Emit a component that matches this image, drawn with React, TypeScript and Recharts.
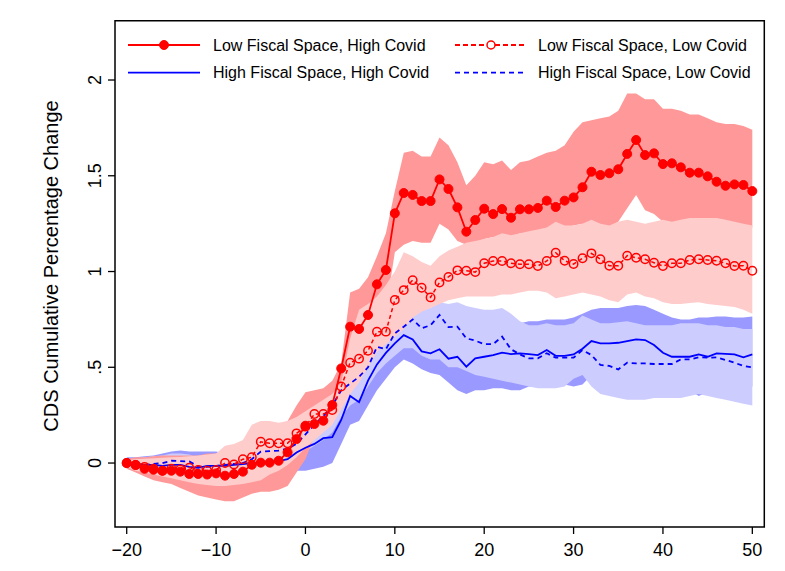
import React from 'react';
import { ComposedChart, Area, Line, XAxis, YAxis, ReferenceArea } from 'recharts';

// ---------- data ----------
const periods = [
  -20, -19, -18, -17, -16, -15, -14, -13, -12, -11, -10, -9, -8, -7, -6, -5, -4, -3, -2, -1,
  0, 1, 2, 3, 4, 5, 6, 7, 8, 9, 10, 11, 12, 13, 14, 15, 16, 17, 18, 19, 20,
  21, 22, 23, 24, 25, 26, 27, 28, 29, 30, 31, 32, 33, 34, 35, 36, 37, 38, 39, 40,
  41, 42, 43, 44, 45, 46, 47, 48, 49, 50,
];

// Low Fiscal Space, High Covid
const lowFsHighCovid = [
  0.0, -0.01, -0.03, -0.035, -0.04, -0.04, -0.045, -0.057, -0.057, -0.06, -0.054, -0.066, -0.057, -0.045, -0.009, 0.002, 0.002, 0.012, 0.056, 0.125,
  0.195, 0.204, 0.221, 0.303, 0.494, 0.712, 0.7, 0.773, 0.933, 1.008, 1.304, 1.41, 1.4, 1.368, 1.368, 1.481, 1.431, 1.335, 1.208, 1.269, 1.328,
  1.3, 1.326, 1.281, 1.325, 1.325, 1.332, 1.37, 1.337, 1.37, 1.387, 1.44, 1.521, 1.504, 1.513, 1.534, 1.614, 1.687, 1.608, 1.617, 1.561,
  1.565, 1.544, 1.516, 1.516, 1.497, 1.469, 1.448, 1.455, 1.452, 1.42,
];
const lowFsHighCovidLo = [
  -0.03, -0.05, -0.07, -0.09, -0.1, -0.11, -0.13, -0.15, -0.17, -0.18, -0.19, -0.2, -0.2, -0.18, -0.16, -0.15, -0.15, -0.14, -0.12, -0.05,
  0.02, 0.14, 0.18, 0.22, 0.3, 0.38, 0.44, 0.52, 0.6, 0.8, 1.1, 1.14, 1.16, 1.15, 1.15, 1.25, 1.22, 1.16, 1.14, 1.15, 1.17,
  1.18, 1.18, 1.17, 1.2, 1.2, 1.21, 1.22, 1.24, 1.23, 1.24, 1.25, 1.24, 1.23, 1.23, 1.26, 1.33, 1.4, 1.32, 1.3, 1.26,
  1.25, 1.25, 1.26, 1.27, 1.27, 1.26, 1.25, 1.25, 1.24, 1.23,
];
const lowFsHighCovidHi = [
  0.02, 0.03, 0.03, 0.035, 0.04, 0.04, 0.04, 0.04, 0.04, 0.05, 0.05, 0.06, 0.07, 0.08, 0.12, 0.15, 0.17, 0.2, 0.22, 0.3,
  0.37, 0.38, 0.39, 0.43, 0.52, 0.89, 0.91, 0.97, 1.08, 1.2, 1.42, 1.62, 1.63, 1.6, 1.6, 1.7, 1.66, 1.57, 1.45, 1.5, 1.57,
  1.56, 1.58, 1.53, 1.57, 1.58, 1.6, 1.62, 1.63, 1.66, 1.73, 1.78, 1.79, 1.8, 1.81, 1.84, 1.93, 1.93, 1.9, 1.9, 1.85,
  1.85, 1.84, 1.82, 1.82, 1.8, 1.78, 1.77, 1.77, 1.76, 1.74,
];

// Low Fiscal Space, Low Covid
const lowFsLowCovid = [
  0.0, -0.01, -0.02, -0.03, -0.04, -0.03, -0.033, -0.024, -0.036, -0.04, -0.036, 0.0, -0.007, 0.02, 0.03, 0.111, 0.103, 0.103, 0.103, 0.155,
  0.19, 0.256, 0.256, 0.277, 0.4, 0.524, 0.545, 0.586, 0.686, 0.686, 0.851, 0.903, 0.955, 0.915, 0.865, 0.943, 0.972, 1.006, 1.004, 0.997, 1.043,
  1.055, 1.055, 1.043, 1.038, 1.038, 1.029, 1.055, 1.098, 1.056, 1.039, 1.069, 1.095, 1.064, 1.03, 1.03, 1.083, 1.072, 1.064, 1.046, 1.029,
  1.043, 1.043, 1.06, 1.064, 1.06, 1.056, 1.043, 1.029, 1.03, 1.004,
];
const lowFsLowCovidLo = [
  -0.02, -0.04, -0.05, -0.06, -0.07, -0.08, -0.09, -0.1, -0.11, -0.115, -0.12, -0.12, -0.115, -0.11, -0.1, -0.09, -0.06, -0.04, -0.01, 0.03,
  0.08, 0.12, 0.16, 0.2, 0.28, 0.36, 0.42, 0.5, 0.58, 0.62, 0.66, 0.7, 0.76, 0.79, 0.81, 0.83, 0.85, 0.86, 0.87, 0.87, 0.87,
  0.87, 0.88, 0.88, 0.89, 0.9, 0.9, 0.89, 0.86, 0.87, 0.88, 0.89, 0.88, 0.87, 0.85, 0.84, 0.88, 0.89, 0.87, 0.86, 0.84,
  0.83, 0.83, 0.835, 0.84, 0.83, 0.825, 0.82, 0.815, 0.8, 0.78,
];
const lowFsLowCovidHi = [
  0.015, 0.02, 0.022, 0.025, 0.028, 0.03, 0.032, 0.035, 0.04, 0.045, 0.05, 0.09, 0.1, 0.12, 0.2, 0.22, 0.22, 0.21, 0.22, 0.24,
  0.27, 0.3, 0.33, 0.36, 0.42, 0.65, 0.8, 0.83, 0.87, 0.93, 1.0, 1.1, 1.08, 1.05, 1.03, 1.08, 1.11, 1.13, 1.15, 1.16, 1.17,
  1.18, 1.2, 1.19, 1.2, 1.21, 1.22, 1.23, 1.26, 1.24, 1.24, 1.25, 1.27, 1.25, 1.24, 1.26, 1.27, 1.26, 1.25, 1.26, 1.27,
  1.26, 1.27, 1.28, 1.28, 1.28, 1.28, 1.27, 1.26, 1.25, 1.24,
];

// High Fiscal Space, High Covid
const highFsHighCovid = [
  0.0, -0.005, -0.01, -0.01, -0.015, -0.01, -0.01, -0.02, -0.025, -0.015, -0.015, -0.015, -0.01, -0.005, 0.0, 0.005, 0.005, 0.01, 0.02, 0.055,
  0.08, 0.1, 0.13, 0.135, 0.225, 0.35, 0.318, 0.43, 0.515, 0.575, 0.625, 0.668, 0.645, 0.583, 0.573, 0.594, 0.545, 0.555, 0.503, 0.547, 0.555,
  0.564, 0.576, 0.569, 0.573, 0.569, 0.564, 0.59, 0.56, 0.56, 0.567, 0.597, 0.637, 0.625, 0.625, 0.628, 0.637, 0.646, 0.642, 0.616, 0.576,
  0.555, 0.555, 0.555, 0.567, 0.555, 0.573, 0.57, 0.567, 0.552, 0.567,
];
const highFsHighCovidLo = [
  -0.03, -0.04, -0.05, -0.06, -0.07, -0.07, -0.08, -0.09, -0.09, -0.09, -0.08, -0.08, -0.08, -0.07, -0.06, -0.06, -0.05, -0.05, -0.04, -0.04,
  -0.04, -0.03, -0.02, 0.0, 0.1, 0.2, 0.22, 0.3, 0.38, 0.44, 0.5, 0.54, 0.52, 0.49, 0.47, 0.46, 0.42, 0.38, 0.36, 0.38, 0.38,
  0.39, 0.39, 0.38, 0.38, 0.4, 0.4, 0.41, 0.41, 0.41, 0.4, 0.41, 0.46, 0.46, 0.46, 0.47, 0.47, 0.48, 0.48, 0.46, 0.43,
  0.41, 0.4, 0.38, 0.35, 0.37, 0.4, 0.4, 0.4, 0.39, 0.4,
];
const highFsHighCovidHi = [
  0.03, 0.03, 0.035, 0.04, 0.05, 0.06, 0.065, 0.06, 0.06, 0.06, 0.06, 0.05, 0.05, 0.05, 0.05, 0.05, 0.06, 0.07, 0.09, 0.12,
  0.16, 0.2, 0.24, 0.27, 0.35, 0.47, 0.45, 0.55, 0.62, 0.7, 0.74, 0.79, 0.78, 0.72, 0.7, 0.71, 0.66, 0.67, 0.63, 0.67, 0.68,
  0.69, 0.7, 0.71, 0.73, 0.74, 0.74, 0.75, 0.75, 0.75, 0.76, 0.78, 0.8, 0.81, 0.81, 0.81, 0.82, 0.825, 0.82, 0.8, 0.78,
  0.76, 0.75, 0.75, 0.76, 0.76, 0.765, 0.765, 0.76, 0.76, 0.765,
];

// High Fiscal Space, Low Covid
const highFsLowCovid = [
  0.0, -0.005, -0.01, -0.005, 0.0, 0.012, 0.01, 0.008, -0.018, -0.02, -0.015, -0.01, -0.005, 0.0, 0.02, 0.06, 0.062, 0.065, 0.075, 0.1,
  0.15, 0.2, 0.245, 0.3, 0.38, 0.415, 0.45, 0.5, 0.607, 0.594, 0.677, 0.712, 0.75, 0.703, 0.72, 0.773, 0.71, 0.712, 0.651, 0.639, 0.621,
  0.621, 0.66, 0.594, 0.567, 0.547, 0.547, 0.573, 0.55, 0.55, 0.55, 0.59, 0.564, 0.512, 0.507, 0.489, 0.524, 0.52, 0.52, 0.517, 0.517,
  0.517, 0.541, 0.541, 0.552, 0.55, 0.552, 0.538, 0.524, 0.507, 0.5,
];
const highFsLowCovidLo = [
  -0.02, -0.03, -0.04, -0.04, -0.04, -0.03, -0.03, -0.03, -0.06, -0.06, -0.06, -0.05, -0.05, -0.045, -0.03, -0.01, -0.005, 0.0, 0.01, 0.03,
  0.06, 0.09, 0.12, 0.16, 0.24, 0.3, 0.33, 0.4, 0.47, 0.52, 0.56, 0.6, 0.6, 0.56, 0.54, 0.54, 0.5, 0.5, 0.48, 0.46, 0.45,
  0.44, 0.43, 0.42, 0.41, 0.4, 0.39, 0.39, 0.39, 0.4, 0.44, 0.46, 0.4, 0.36, 0.35, 0.34, 0.33, 0.33, 0.33, 0.34, 0.34,
  0.34, 0.34, 0.35, 0.36, 0.35, 0.34, 0.33, 0.32, 0.31, 0.3,
];
const highFsLowCovidHi = [
  0.02, 0.025, 0.03, 0.035, 0.04, 0.05, 0.05, 0.045, 0.03, 0.03, 0.03, 0.035, 0.04, 0.045, 0.08, 0.12, 0.13, 0.14, 0.16, 0.19,
  0.24, 0.29, 0.33, 0.38, 0.46, 0.5, 0.55, 0.6, 0.7, 0.72, 0.77, 0.8, 0.83, 0.8, 0.81, 0.84, 0.83, 0.84, 0.82, 0.81, 0.8,
  0.8, 0.81, 0.78, 0.74, 0.72, 0.72, 0.73, 0.72, 0.72, 0.73, 0.77, 0.75, 0.73, 0.73, 0.735, 0.74, 0.73, 0.72, 0.72, 0.72,
  0.72, 0.73, 0.73, 0.73, 0.72, 0.72, 0.71, 0.71, 0.7, 0.7,
];

const xTicks = [-20, -10, 0, 10, 20, 30, 40, 50];
const yTicks = [0, 0.5, 1, 1.5, 2];
const yTickLabels = ['0', '.5', '1', '1.5', '2'];
const yTitle = 'CDS Cumulative Percentage Change';
const legendLabels = [
  'Low Fiscal Space, High Covid',
  'Low Fiscal Space, Low Covid',
  'High Fiscal Space, High Covid',
  'High Fiscal Space, Low Covid',
];

// ---------- styling / layout ----------
const FONT = '"Liberation Sans", Arial, Helvetica, sans-serif';
const RED = '#FF0000';
const BLUE = '#0000FF';
const BAND_A = '#FF9999';
const BAND_B = '#FFCCCC';
const BAND_C = '#9999FF';
const BAND_D = '#CCCCFF';

const W = 777;
const H = 563;
const X_DOMAIN: [number, number] = [-21.31, 51.34];
const Y_DOMAIN: [number, number] = [-0.334, 2.3097];
const PLOT_TOP = 12.7;
const PLOT_LEFT = 107;
const PLOT_RIGHT_MARGIN = 20.7;
const X_AXIS_H = 44;
const PLOT_BOTTOM = H - X_AXIS_H;

const data = periods.map((t, i) => ({
  t,
  a: lowFsHighCovid[i],
  b: lowFsLowCovid[i],
  c: highFsHighCovid[i],
  d: highFsLowCovid[i],
  aBand: [lowFsHighCovidLo[i], lowFsHighCovidHi[i]],
  bBand: [lowFsLowCovidLo[i], lowFsLowCovidHi[i]],
  cBand: [highFsHighCovidLo[i], highFsHighCovidHi[i]],
  dBand: [highFsLowCovidLo[i], highFsLowCovidHi[i]],
}));

const XTick = (props: any) => {
  const { x, payload } = props;
  const v = payload.value as number;
  const label = v < 0 ? '\u2212' + Math.abs(v) : String(v);
  return (
    <text x={x} y={PLOT_BOTTOM + 29} textAnchor="middle" fontSize={18} fontFamily={FONT} fill="#000">
      {label}
    </text>
  );
};

const YTick = (props: any) => {
  const { y, payload } = props;
  const idx = yTicks.indexOf(payload.value);
  const lx = 93;
  return (
    <text
      x={lx}
      y={y}
      transform={`rotate(-90, ${lx}, ${y})`}
      textAnchor="middle"
      fontSize={18}
      fontFamily={FONT}
      fill="#000"
    >
      {idx >= 0 ? yTickLabels[idx] : String(payload.value)}
    </text>
  );
};

const Legend = () => {
  const rows = [
    { y: 37, x1: 120, x2: 192, tx: 205, color: RED, dash: undefined, marker: 'filled', label: legendLabels[0] },
    { y: 37, x1: 447, x2: 519, tx: 530, color: RED, dash: '5 3', marker: 'hollow', label: legendLabels[1] },
    { y: 64.7, x1: 120, x2: 192, tx: 205, color: BLUE, dash: undefined, marker: 'none', label: legendLabels[2] },
    { y: 64.7, x1: 447, x2: 519, tx: 530, color: BLUE, dash: '5 4', marker: 'none', label: legendLabels[3] },
  ];
  return (
    <svg width={W} height={100} style={{ position: 'absolute', left: 0, top: 0, pointerEvents: 'none' }}>
      {rows.map((r, i) => (
        <g key={i}>
          <line x1={r.x1} x2={r.x2} y1={r.y} y2={r.y} stroke={r.color} strokeWidth={1.8} strokeDasharray={r.dash} />
          {r.marker === 'filled' && <circle cx={(r.x1 + r.x2) / 2} cy={r.y} r={4.5} fill={r.color} stroke={r.color} />}
          {r.marker === 'hollow' && (
            <circle cx={(r.x1 + r.x2) / 2} cy={r.y} r={4} fill="#fff" stroke={r.color} strokeWidth={1.5} />
          )}
          <text x={r.tx} y={r.y + 5.7} fontSize={16} fontFamily={FONT} fill="#000">
            {r.label}
          </text>
        </g>
      ))}
    </svg>
  );
};

const YTitle = () => (
  <svg width={80} height={H} style={{ position: 'absolute', left: 0, top: 0, pointerEvents: 'none' }}>
    <text
      x={50}
      y={258}
      transform="rotate(-90, 50, 258)"
      textAnchor="middle"
      fontSize={20}
      fontFamily={FONT}
      fill="#000"
    >
      {yTitle}
    </text>
  </svg>
);

export default function App() {
  return (
    <div style={{ position: 'relative', width: W, height: H, background: '#fff' }}>
      <ComposedChart
        width={W}
        height={H}
        data={data}
        margin={{ top: PLOT_TOP, right: PLOT_RIGHT_MARGIN, bottom: 0, left: 0 }}
      >
        <XAxis
          dataKey="t"
          type="number"
          domain={X_DOMAIN}
          ticks={xTicks}
          allowDataOverflow
          height={X_AXIS_H}
          tickSize={7}
          axisLine={false}
          tickLine={{ stroke: '#000', strokeWidth: 1.3 }}
          tick={<XTick />}
          interval={0}
        />
        <YAxis
          type="number"
          domain={Y_DOMAIN}
          ticks={yTicks}
          allowDataOverflow
          width={PLOT_LEFT}
          tickSize={7}
          axisLine={false}
          tickLine={{ stroke: '#000', strokeWidth: 1.3 }}
          tick={<YTick />}
          interval={0}
        />
        <Area type="linear" dataKey="cBand" fill={BAND_C} fillOpacity={1} stroke="none" isAnimationActive={false} activeDot={false} dot={false} />
        <Area type="linear" dataKey="dBand" fill={BAND_D} fillOpacity={1} stroke="none" isAnimationActive={false} activeDot={false} dot={false} />
        <Area type="linear" dataKey="aBand" fill={BAND_A} fillOpacity={1} stroke="none" isAnimationActive={false} activeDot={false} dot={false} />
        <Area type="linear" dataKey="bBand" fill={BAND_B} fillOpacity={1} stroke="none" isAnimationActive={false} activeDot={false} dot={false} />
        <Line type="linear" dataKey="d" stroke={BLUE} strokeWidth={1.8} strokeDasharray="5 4" dot={false} activeDot={false} isAnimationActive={false} />
        <Line type="linear" dataKey="c" stroke={BLUE} strokeWidth={1.8} dot={false} activeDot={false} isAnimationActive={false} />
        <Line
          type="linear"
          dataKey="b"
          stroke={RED}
          strokeWidth={1.5}
          strokeDasharray="4 3"
          dot={{ r: 4.2, fill: 'none', stroke: RED, strokeWidth: 1.5, strokeDasharray: '' }}
          activeDot={false}
          isAnimationActive={false}
        />
        <Line
          type="linear"
          dataKey="a"
          stroke={RED}
          strokeWidth={1.8}
          dot={{ r: 4.5, fill: RED, stroke: RED, strokeWidth: 1 }}
          activeDot={false}
          isAnimationActive={false}
        />
        <ReferenceArea
          x1={X_DOMAIN[0]}
          x2={X_DOMAIN[1]}
          y1={Y_DOMAIN[0]}
          y2={Y_DOMAIN[1]}
          fill="none"
          stroke="#000"
          strokeWidth={1.5}
          ifOverflow="visible"
        />
      </ComposedChart>
      <Legend />
      <YTitle />
    </div>
  );
}
